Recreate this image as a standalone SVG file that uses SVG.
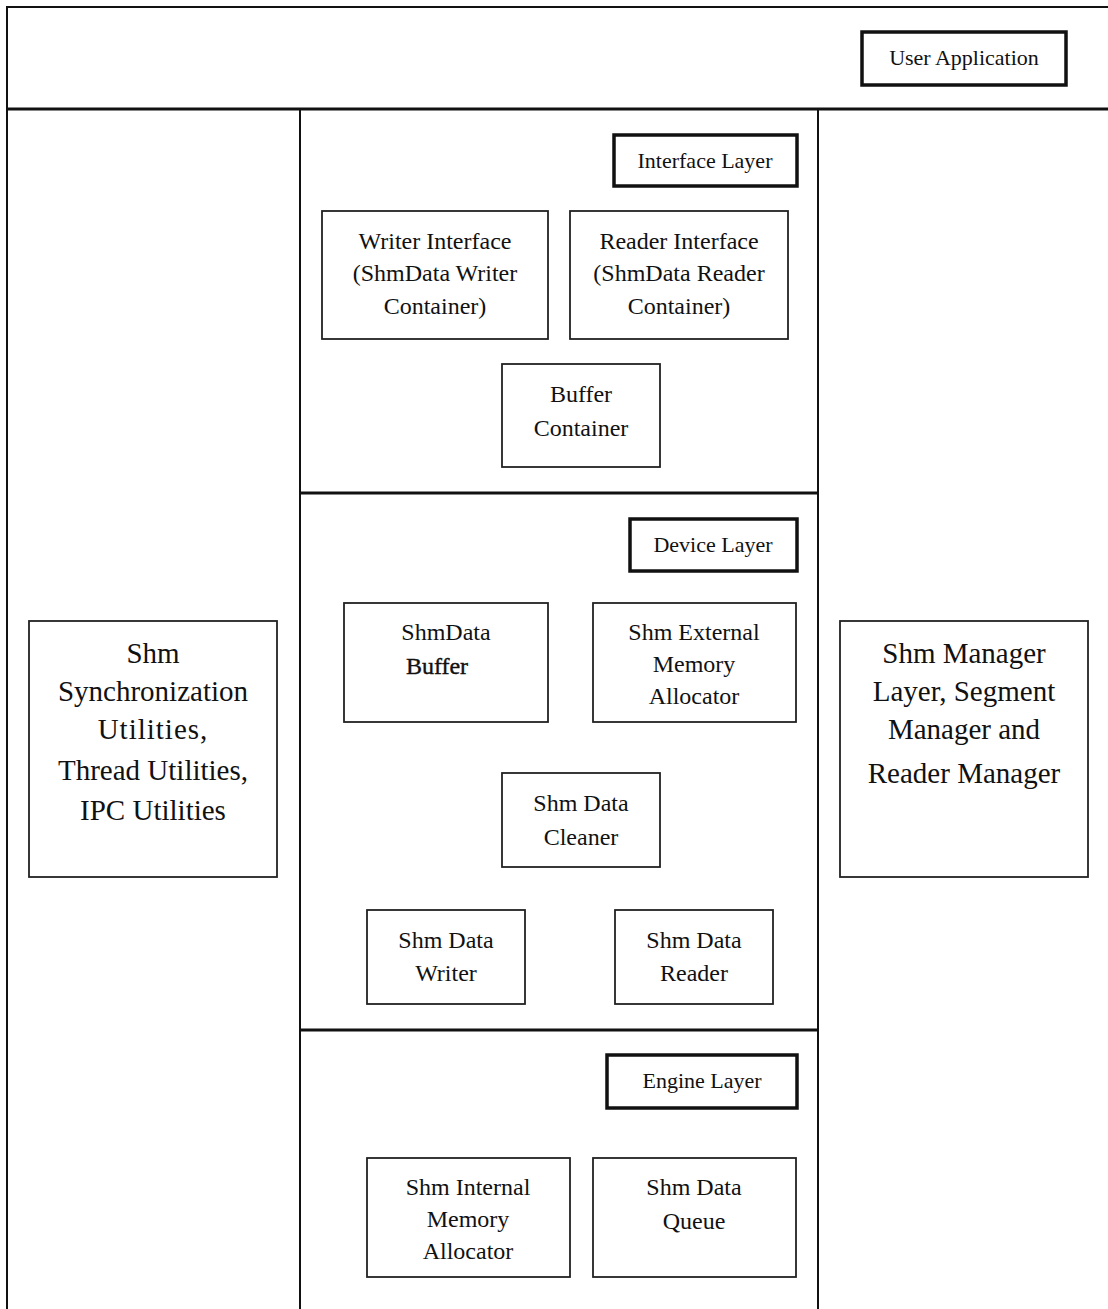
<svg xmlns="http://www.w3.org/2000/svg" width="1108" height="1309" viewBox="0 0 1108 1309">
  <style>
    .frame { fill: none; stroke: #111; stroke-width: 2; }
    .rule { fill: none; stroke: #111; stroke-width: 3; }
    .box { fill: #fff; stroke: #222; stroke-width: 1.8; }
    .tag { fill: #fff; stroke: #111; stroke-width: 3.5; }
    text { font-family: "Liberation Serif", "Times New Roman", "DejaVu Serif", serif; fill: #111; text-anchor: middle; }
    .t { font-size: 24px; }
    .tl { font-size: 22px; }
    .tb { font-size: 29px; }
  </style>
  <rect width="1108" height="1309" fill="#fff"/>

  <!-- outer frame and layer column -->
  <g id="frame">
    <path class="frame" d="M7,1309 V7 H1108"/>
    <path class="rule" d="M7,109 H1108"/>
    <path class="frame" d="M300,109 V1309 M818,109 V1309"/>
    <path class="rule" d="M300,493 H818 M300,1030 H818"/>
  </g>

  <g id="connectors"/>

  <g id="user-application">
    <rect class="tag" x="862" y="32" width="204" height="53"/>
    <text class="tl" x="964" y="65">User Application</text>
  </g>

  <!-- interface layer -->
  <g id="interface-layer">
    <rect class="tag" x="614" y="135" width="183" height="51"/>
    <text class="tl" x="705" y="168">Interface Layer</text>
  </g>
  <g id="writer-interface">
    <rect class="box" x="322" y="211" width="226" height="128"/>
    <text class="t" x="435" y="249">Writer Interface</text>
    <text class="t" x="435" y="281">(ShmData Writer</text>
    <text class="t" x="435" y="314">Container)</text>
  </g>
  <g id="reader-interface">
    <rect class="box" x="570" y="211" width="218" height="128"/>
    <text class="t" x="679" y="249">Reader Interface</text>
    <text class="t" x="679" y="281">(ShmData Reader</text>
    <text class="t" x="679" y="314">Container)</text>
  </g>
  <g id="buffer-container">
    <rect class="box" x="502" y="364" width="158" height="103"/>
    <text class="t" x="581" y="402">Buffer</text>
    <text class="t" x="581" y="436">Container</text>
  </g>

  <!-- device layer -->
  <g id="device-layer">
    <rect class="tag" x="630" y="519" width="167" height="52"/>
    <text class="tl" x="713" y="552">Device Layer</text>
  </g>
  <g id="shmdata-buffer">
    <rect class="box" x="344" y="603" width="204" height="119"/>
    <text class="t" x="446" y="640">ShmData</text>
    <text class="t" x="437" y="674" stroke="#111" stroke-width="0.4">Buffer</text>
  </g>
  <g id="external-allocator">
    <rect class="box" x="593" y="603" width="203" height="119"/>
    <text class="t" x="694" y="640">Shm External</text>
    <text class="t" x="694" y="672">Memory</text>
    <text class="t" x="694" y="704">Allocator</text>
  </g>
  <g id="data-cleaner">
    <rect class="box" x="502" y="773" width="158" height="94"/>
    <text class="t" x="581" y="811">Shm Data</text>
    <text class="t" x="581" y="845">Cleaner</text>
  </g>
  <g id="data-writer">
    <rect class="box" x="367" y="910" width="158" height="94"/>
    <text class="t" x="446" y="948">Shm Data</text>
    <text class="t" x="446" y="981">Writer</text>
  </g>
  <g id="data-reader">
    <rect class="box" x="615" y="910" width="158" height="94"/>
    <text class="t" x="694" y="948">Shm Data</text>
    <text class="t" x="694" y="981">Reader</text>
  </g>

  <!-- engine layer -->
  <g id="engine-layer">
    <rect class="tag" x="607" y="1055" width="190" height="53"/>
    <text class="tl" x="702" y="1088">Engine Layer</text>
  </g>
  <g id="internal-allocator">
    <rect class="box" x="367" y="1158" width="203" height="119"/>
    <text class="t" x="468" y="1195">Shm Internal</text>
    <text class="t" x="468" y="1227">Memory</text>
    <text class="t" x="468" y="1259">Allocator</text>
  </g>
  <g id="data-queue">
    <rect class="box" x="593" y="1158" width="203" height="119"/>
    <text class="t" x="694" y="1195">Shm Data</text>
    <text class="t" x="694" y="1229">Queue</text>
  </g>

  <!-- side utilities -->
  <g id="sync-utilities">
    <rect class="box" x="29" y="621" width="248" height="256"/>
    <text class="tb" x="153" y="663">Shm</text>
    <text class="tb" x="153" y="701">Synchronization</text>
    <text class="tb" x="153" y="739" letter-spacing="1">Utilities,</text>
    <text class="tb" x="153" y="780">Thread Utilities,</text>
    <text class="tb" x="153" y="820">IPC Utilities</text>
  </g>
  <g id="manager-layer">
    <rect class="box" x="840" y="621" width="248" height="256"/>
    <text class="tb" x="964" y="663">Shm Manager</text>
    <text class="tb" x="964" y="701">Layer, Segment</text>
    <text class="tb" x="964" y="739">Manager and</text>
    <text class="tb" x="964" y="783">Reader Manager</text>
  </g>
</svg>
